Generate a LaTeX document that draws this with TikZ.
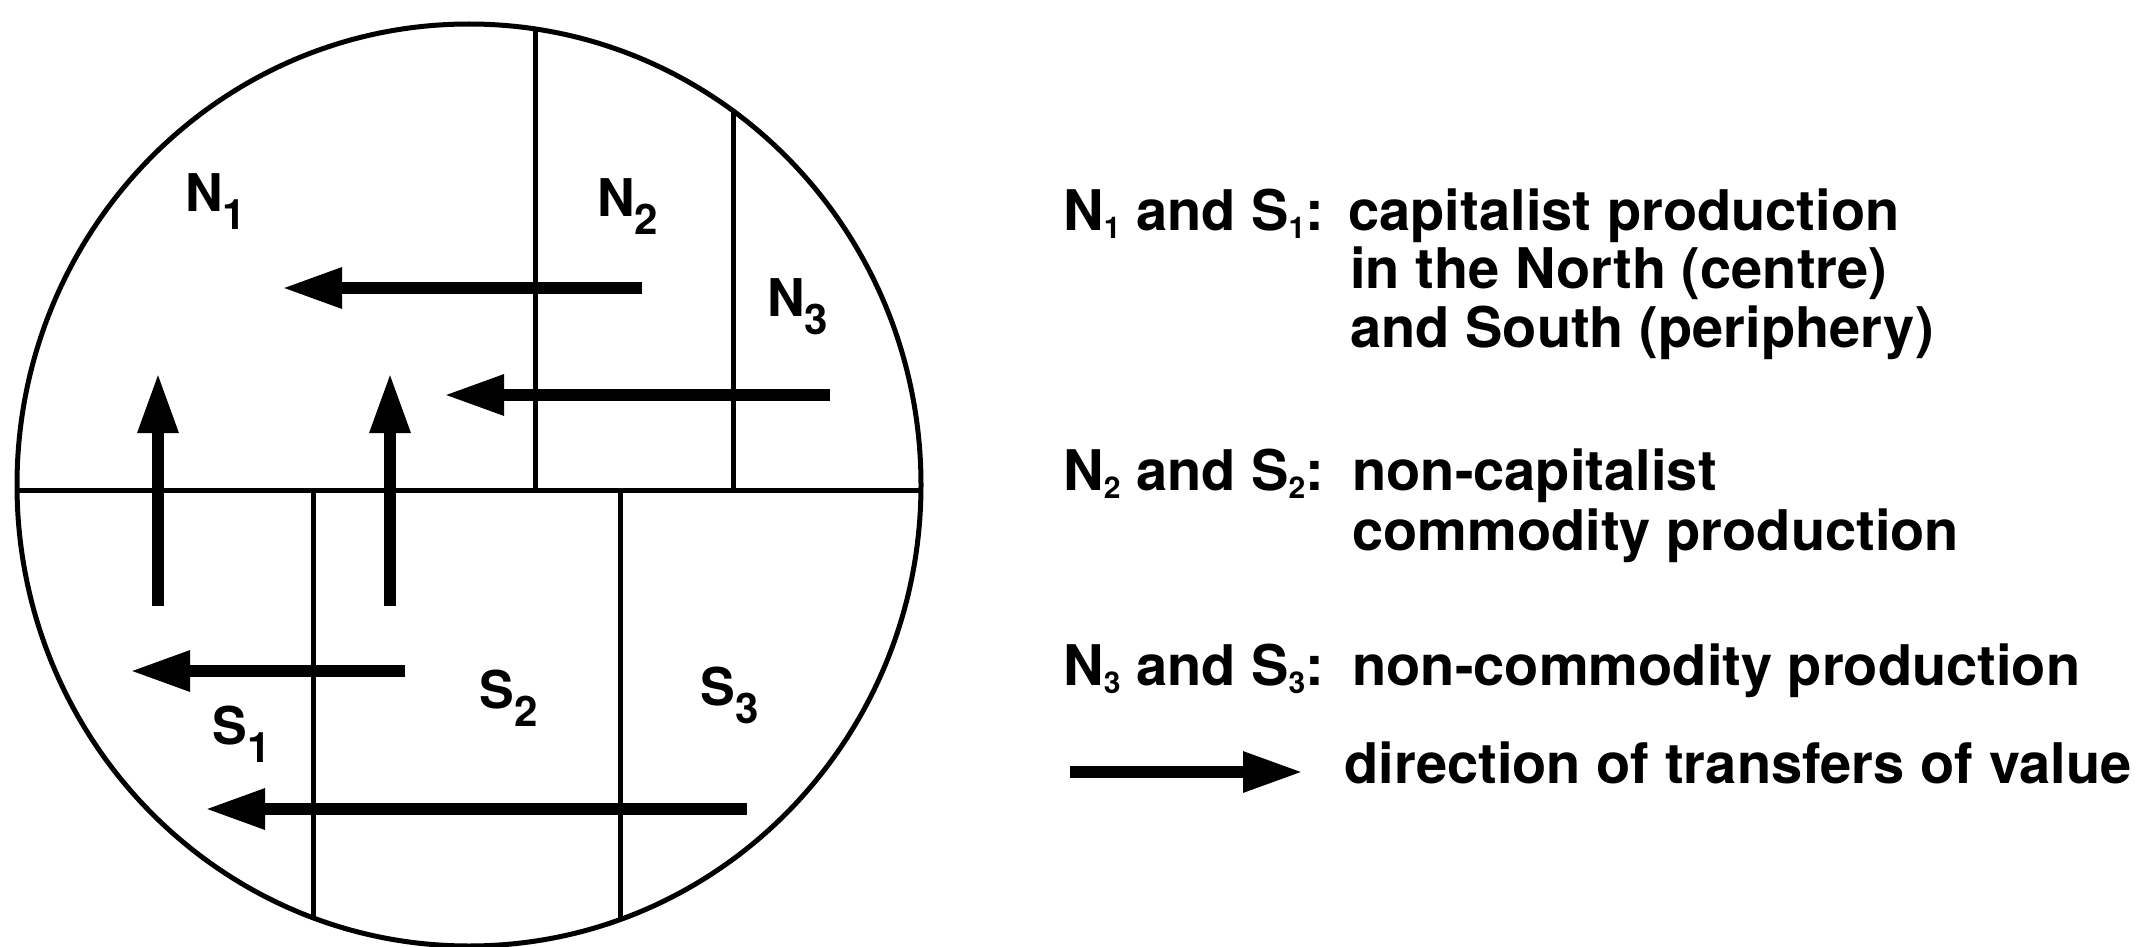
\documentclass[tikz,border=0pt]{standalone}
\usepackage{fontspec}
\setmainfont{TeX Gyre Heros}
\usetikzlibrary{arrows.meta}
\newcommand{\lsub}[1]{\raisebox{-4pt}{\fontsize{15}{15}\selectfont #1}}
\newcommand{\csub}[1]{\raisebox{-9pt}{\fontsize{21}{21}\selectfont #1}}
\begin{document}
\begin{tikzpicture}[x=0.5pt,y=-0.5pt,
  frame/.style={line width=2.5pt},
  flow/.style={line width=6pt, line cap=butt, -{Triangle[length=30pt,width=19pt]}},
  region/.style={font=\fontsize{26}{26}\selectfont\bfseries, inner sep=0pt, anchor=base west},
  legend/.style={font=\fontsize{28}{28}\selectfont\bfseries, inner sep=0pt, anchor=base west}]
\useasboundingbox (0,0) rectangle (2147,947);
\coordinate (c) at (469,485);
% partition lines, clipped to the disc
\begin{scope}
  \clip (c) ellipse [x radius=226pt, y radius=230.5pt];
  \draw[frame] (0,490) -- (950,490);
  \draw[frame] (535,0) -- (535,490);
  \draw[frame] (733,0) -- (733,490);
  \draw[frame] (313,490) -- (313,960);
  \draw[frame] (620,490) -- (620,960);
\end{scope}
\draw[frame] (c) ellipse [x radius=226pt, y radius=230.5pt];
% region labels
\node[region] (n1) at (185,212) {N\csub{1}};
\node[region] (n2) at (597,216) {N\csub{2}};
\node[region] (n3) at (767,316) {N\csub{3}};
\node[region] (s1) at (212,744) {S\csub{1}};
\node[region] (s2) at (479,708) {S\csub{2}};
\node[region] (s3) at (700,705) {S\csub{3}};
% transfer arrows
\coordinate (a1s) at (642,288); \coordinate (a1e) at (282,288);
\coordinate (a2s) at (830,395); \coordinate (a2e) at (444,395);
\coordinate (v1s) at (158,606); \coordinate (v1e) at (158,373);
\coordinate (v2s) at (390,606); \coordinate (v2e) at (390,373);
\coordinate (b1s) at (405,671); \coordinate (b1e) at (130,671);
\coordinate (b2s) at (747,809); \coordinate (b2e) at (205,809);
\draw[flow] (a1s) -- (a1e);
\draw[flow] (a2s) -- (a2e);
\draw[flow] (v1s) -- (v1e);
\draw[flow] (v2s) -- (v2e);
\draw[flow] (b1s) -- (b1e);
\draw[flow] (b2s) -- (b2e);
% legend
\node[legend] (k1) at (1063,230) {N\lsub{1} and S\lsub{1}:};
\node[legend] (d1a) at (1348,230) {capitalist production};
\node[legend] (d1b) at (1350,288) {in the North (centre)};
\node[legend] (d1c) at (1350,347) {and South (periphery)};
\node[legend] (k2) at (1063,490) {N\lsub{2} and S\lsub{2}:};
\node[legend] (d2a) at (1352,490) {non-capitalist};
\node[legend] (d2b) at (1352,550) {commodity production};
\node[legend] (k3) at (1063,685) {N\lsub{3} and S\lsub{3}:};
\node[legend] (d3a) at (1352,685) {non-commodity production};
\coordinate (ks) at (1070,772); \coordinate (ke) at (1303,772);
\draw[flow] (ks) -- (ke);
\node[legend] (d4) at (1344,783) {direction of transfers of value};
\end{tikzpicture}
\end{document}
